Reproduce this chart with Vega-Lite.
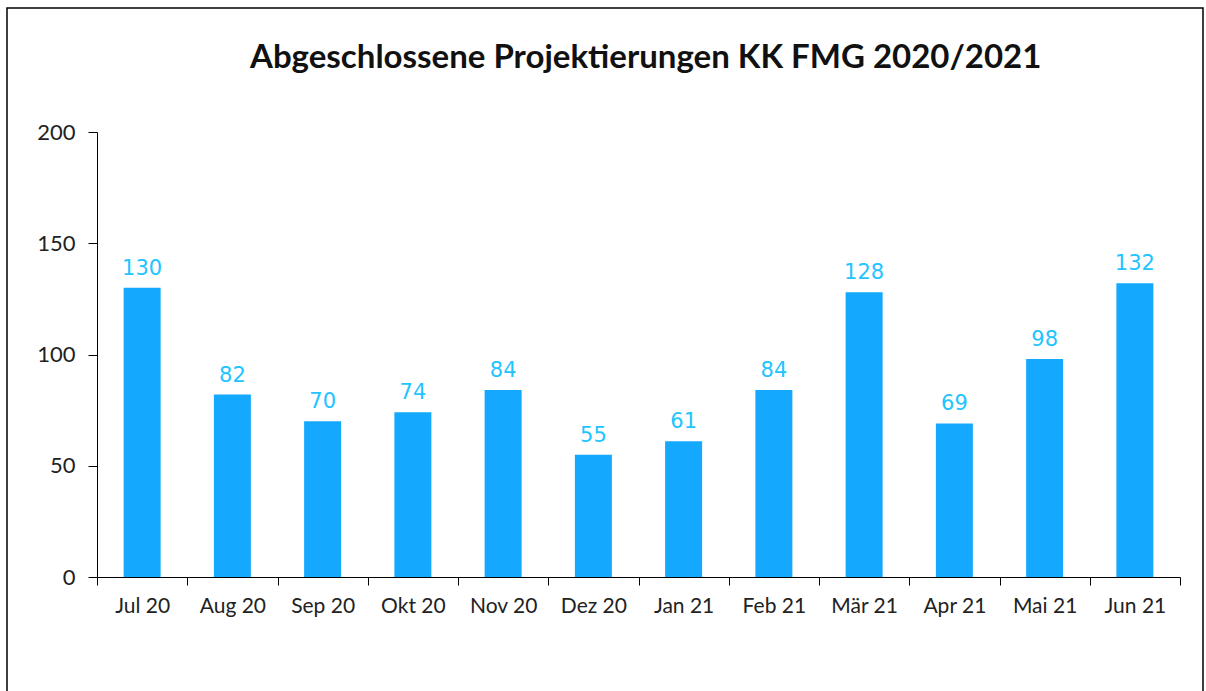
{
  "$schema": "https://vega.github.io/schema/vega-lite/v6.json",
  "autosize": "none",
  "width": 1196,
  "height": 700,
  "padding": {"left": 7, "top": 8, "right": 3, "bottom": 0},
  "background": "white",
  "title": {
    "text": "Abgeschlossene Projektierungen KK FMG 2020/2021",
    "font": "Lato",
    "fontSize": 33,
    "fontWeight": "bold",
    "color": "#111111",
    "anchor": "start",
    "offset": -93,
    "dx": 243,
    "baseline": "alphabetic"
  },
  "data": {
    "values": [
      {"monat": "Jul 20", "wert": 130},
      {"monat": "Aug 20", "wert": 82},
      {"monat": "Sep 20", "wert": 70},
      {"monat": "Okt 20", "wert": 74},
      {"monat": "Nov 20", "wert": 84},
      {"monat": "Dez 20", "wert": 55},
      {"monat": "Jan 21", "wert": 61},
      {"monat": "Feb 21", "wert": 84},
      {"monat": "Mär 21", "wert": 128},
      {"monat": "Apr 21", "wert": 69},
      {"monat": "Mai 21", "wert": 98},
      {"monat": "Jun 21", "wert": 132}
    ]
  },
  "encoding": {
    "x": {
      "field": "monat",
      "type": "nominal",
      "sort": null,
      "scale": {"range": [90, 1173], "paddingInner": 0, "paddingOuter": 0},
      "axis": {
        "title": null,
        "labelAngle": 0,
        "labelFont": "Lato",
        "labelFontSize": 21,
        "labelColor": "#222222",
        "labelPadding": 10,
        "tickSize": 8,
        "tickColor": "#000000",
        "domainColor": "#000000",
        "tickBand": "extent",
        "offset": -131
      }
    },
    "y": {
      "field": "wert",
      "type": "quantitative",
      "scale": {"domain": [0, 200], "range": [569, 124], "nice": false},
      "axis": {
        "title": null,
        "values": [0, 50, 100, 150, 200],
        "grid": false,
        "labelFont": "Lato",
        "labelFontSize": 22,
        "labelColor": "#222222",
        "labelPadding": 13,
        "tickSize": 9,
        "tickColor": "#000000",
        "domainColor": "#000000",
        "offset": -90
      }
    }
  },
  "layer": [
    {"mark": {"type": "bar", "color": "#14A9FF", "width": {"band": 0.41}}},
    {
      "mark": {"type": "text", "color": "#22C4FF", "font": "DejaVu Sans", "fontSize": 21, "baseline": "bottom", "dy": -9},
      "encoding": {"text": {"field": "wert", "type": "quantitative"}}
    }
  ],
  "config": {
    "view": {"stroke": "#000000", "strokeWidth": 1.5}
  }
}
